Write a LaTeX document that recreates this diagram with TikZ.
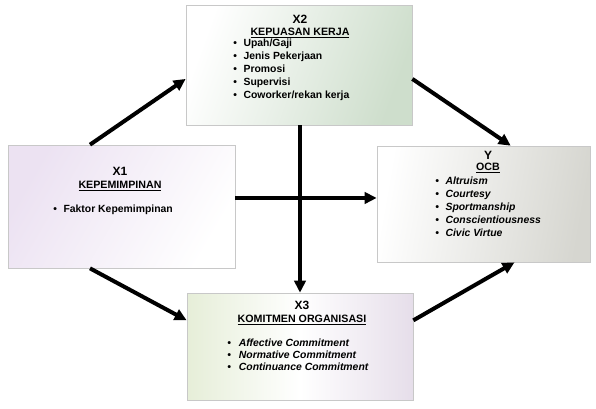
\documentclass[tikz,border=0pt]{standalone}
\usepackage{fontspec}
\setmainfont{Liberation Sans}
\usetikzlibrary{arrows.meta}

\tikzset{
  box/.style={draw={rgb, 255:red, 200; green, 200; blue, 200 }, line width=0.5pt, inner sep=0pt, shade, shading=axis},
  head/.style={inner sep=0.75pt, font=\fontsize{8}{9}\selectfont\bfseries},
  tag/.style={inner sep=0.75pt, font=\fontsize{9}{10}\selectfont\bfseries},
  items/.style={inner sep=0.75pt, align=left, font=\fontsize{7.8}{9.75}\selectfont\bfseries},
  link/.style={line width=3pt, -{Triangle[length=9pt, width=8.5pt]}}
}

\begin{document}
\begin{tikzpicture}[x=0.75pt,y=0.75pt,yscale=-1,xscale=1]
        \path (0,0) rectangle (596,408); %set diagram to 596 x 408

        %Shape: Rectangle [X2]
        \node (x2) [box, minimum width=169.5pt, minimum height=90pt, left color=white, right color={rgb, 255:red, 206; green, 222; blue, 204 }, shading angle=70] at (299,65) {};
        %Shape: Rectangle [X1]
        \node (x1) [box, minimum width=170.25pt, minimum height=92.25pt, left color={rgb, 255:red, 236; green, 226; blue, 242 }, right color=white, shading angle=60] at (121.5,206.5) {};
        %Shape: Rectangle [Y]
        \node (y) [box, minimum width=159.75pt, minimum height=87pt, left color=white, right color={rgb, 255:red, 214; green, 214; blue, 208 }, shading angle=80] at (483.5,204) {};
        %Shape: Rectangle [X3]
        \node (x3) [box, minimum width=169.5pt, minimum height=80.25pt, left color={rgb, 255:red, 230; green, 238; blue, 216 }, right color={rgb, 255:red, 230; green, 222; blue, 234 }, middle color=white, shading angle=90] at (300,346.5) {};

        % Text Node
        \node (x2a) [tag] at (300,19) {X2};
        \node (x2b) [head] at (300,33) {\underline{KEPUASAN KERJA}};
        \node (x2c) [items, anchor=north west] at (232,38) {•\hspace{5pt}Upah/Gaji\\•\hspace{5pt}Jenis Pekerjaan\\•\hspace{5pt}Promosi\\•\hspace{5pt}Supervisi\\•\hspace{5pt}Coworker/rekan kerja};
        % Text Node
        \node (x1a) [tag] at (120,171) {X1};
        \node (x1b) [head] at (120,186) {\underline{KEPEMIMPINAN}};
        \node (x1c) [items, anchor=west] at (52,210) {•\hspace{5pt}Faktor Kepemimpinan};
        % Text Node
        \node (ya) [tag] at (488,155) {Y};
        \node (yb) [head] at (488,168) {\underline{OCB}};
        \node (yc) [items, anchor=north west, font=\fontsize{7.8}{9.6}\selectfont\bfseries\itshape] at (434,176) {•\hspace{5pt}Altruism\\•\hspace{5pt}Courtesy\\•\hspace{5pt}Sportmanship\\•\hspace{5pt}Conscientiousness\\•\hspace{5pt}Civic Virtue};
        % Text Node
        \node (x3a) [tag] at (302,305) {X3};
        \node (x3b) [head] at (302,320) {\underline{KOMITMEN ORGANISASI}};
        \node (x3c) [items, anchor=north west, font=\fontsize{7.8}{9}\selectfont\bfseries\itshape] at (226,338) {•\hspace{6pt}Affective Commitment\\•\hspace{6pt}Normative Commitment\\•\hspace{6pt}Continuance Commitment};

        %Straight Lines
        \draw [link] (x1.117) -- (x2.187);
        \draw [link] (x2.353) -- (y.65);
        \draw [link] (x1.243) -- (x3.167);
        \draw [link] (x3.13) -- (y.298);
        \draw [link] (x2.south -| x3.north) -- (x3.north);
        \draw [link] ([yshift=-6.4pt]x1.east) -- ([yshift=-6.4pt]x1.east -| y.west);
\end{tikzpicture}
\end{document}
